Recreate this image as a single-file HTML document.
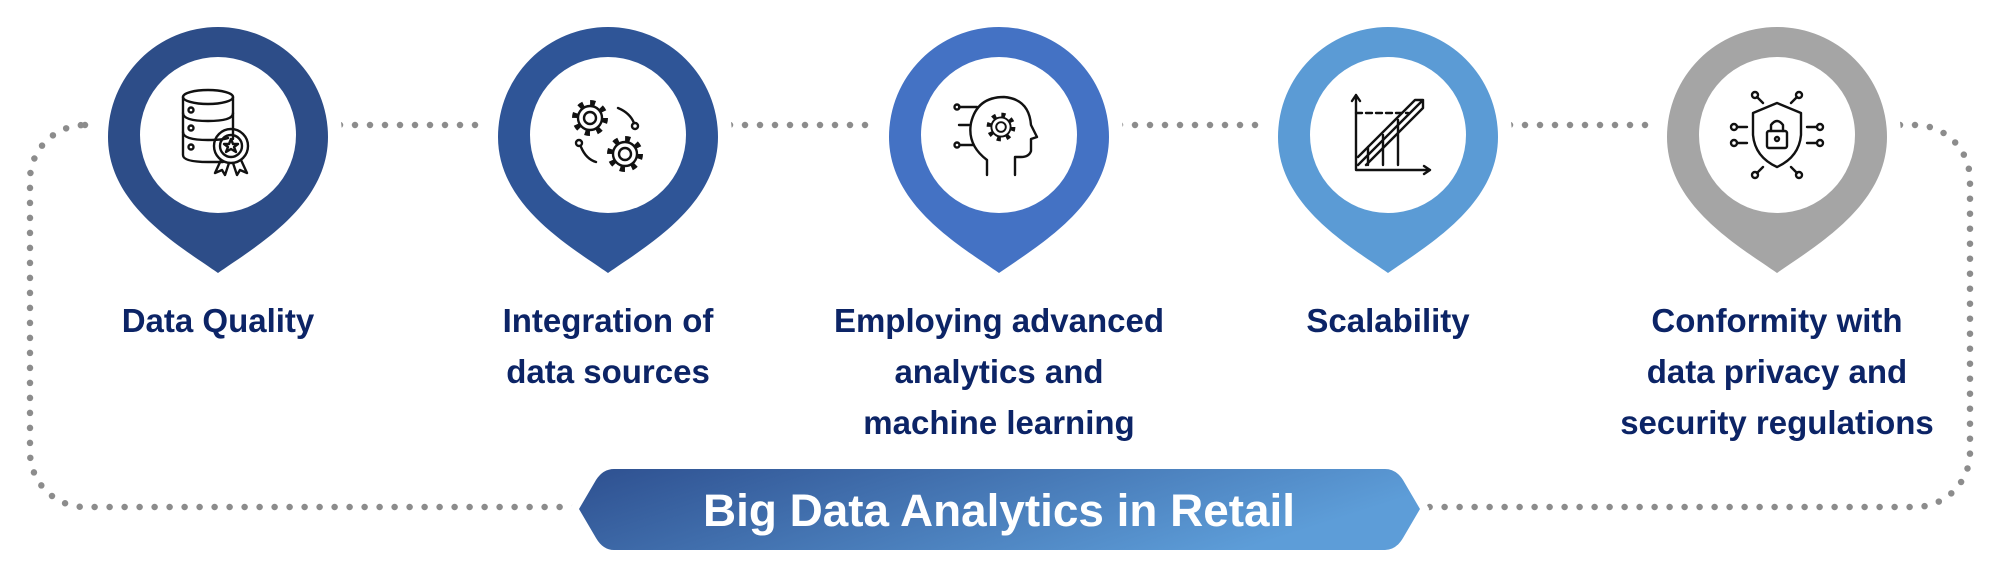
<!DOCTYPE html>
<html><head><meta charset="utf-8">
<style>
html,body{margin:0;padding:0;background:#fff;}
svg{display:block;}
.lb{font-family:"Liberation Sans",sans-serif;font-weight:bold;font-size:33px;fill:#0c2466;text-anchor:middle;}
.ic{fill:none;stroke:#111;stroke-width:2.4;stroke-linecap:round;stroke-linejoin:round;}
</style></head>
<body>
<svg width="2000" height="585" viewBox="0 0 2000 585" xmlns="http://www.w3.org/2000/svg">
<defs>
<linearGradient id="g" x1="0" y1="0" x2="1" y2="0.3">
<stop offset="0" stop-color="#2e5090"/><stop offset="1" stop-color="#5d9dd8"/>
</linearGradient>
<path id="pin" d="M0,273 C-40,245 -110,205 -110,137 A110,110 0 1,1 110,137 C110,205 40,245 0,273 Z"/>
<g id="gear">
<circle cx="0" cy="0" r="15" fill="none" stroke="#111" stroke-width="6" stroke-dasharray="5 6.78"/>
<circle cx="0" cy="0" r="12" fill="#fff" stroke="#111" stroke-width="2.4"/>
<circle cx="0" cy="0" r="6" fill="none" stroke="#111" stroke-width="2.4"/>
</g>
</defs>
<rect x="30" y="125" width="1940" height="382" rx="55" ry="55" fill="none" stroke="#8c8c8c" stroke-width="6.5" stroke-linecap="round" stroke-dasharray="0 15"/>
<path d="M579,509 L596,480 Q603,469 614,469 L1385,469 Q1396,469 1403,480 L1420,509 L1403,538 Q1396,550 1385,550 L614,550 Q603,550 596,538 Z" fill="url(#g)" stroke="#fff" stroke-width="16"/>
<path d="M579,509 L596,480 Q603,469 614,469 L1385,469 Q1396,469 1403,480 L1420,509 L1403,538 Q1396,550 1385,550 L614,550 Q603,550 596,538 Z" fill="url(#g)"/>
<text x="999" y="526" font-family="Liberation Sans,sans-serif" font-weight="bold" font-size="45" fill="#fff" text-anchor="middle" textLength="592" lengthAdjust="spacingAndGlyphs">Big Data Analytics in Retail</text>

<g transform="translate(218,0)"><use href="#pin" fill="#2d4d88" stroke="#fff" stroke-width="28"/><use href="#pin" fill="#2d4d88"/><circle cx="0" cy="135" r="78" fill="#fff"/></g>
<g transform="translate(608,0)"><use href="#pin" fill="#2f5597" stroke="#fff" stroke-width="28"/><use href="#pin" fill="#2f5597"/><circle cx="0" cy="135" r="78" fill="#fff"/></g>
<g transform="translate(999,0)"><use href="#pin" fill="#4472c4" stroke="#fff" stroke-width="28"/><use href="#pin" fill="#4472c4"/><circle cx="0" cy="135" r="78" fill="#fff"/></g>
<g transform="translate(1388,0)"><use href="#pin" fill="#5b9bd5" stroke="#fff" stroke-width="28"/><use href="#pin" fill="#5b9bd5"/><circle cx="0" cy="135" r="78" fill="#fff"/></g>
<g transform="translate(1777,0)"><use href="#pin" fill="#a5a5a5" stroke="#fff" stroke-width="28"/><use href="#pin" fill="#a5a5a5"/><circle cx="0" cy="135" r="78" fill="#fff"/></g>

<g class="ic" transform="translate(218,135)">
<ellipse cx="-10" cy="-38" rx="25" ry="7"/>
<path d="M-35,-38 V20 Q-35,27 -10,27 L5,27 M15,-38 V4"/>
<path d="M-35,-22 Q-35,-14 -10,-14 Q15,-14 15,-22 M-35,-3 Q-35,5 -10,5 Q5,5 10,3"/>
<circle cx="-27" cy="-25" r="2.5"/><circle cx="-27" cy="-7" r="2.5"/><circle cx="-27" cy="12" r="2.5"/>
<circle cx="13" cy="11" r="17"/><circle cx="13" cy="11" r="11"/>
<path d="M13,4 L15,9 L20,9 L16,12 L18,17 L13,14 L8,17 L10,12 L6,9 L11,9 Z"/>
<path d="M3,25 L-3,38 L4,35 L7,40 L11,28 M23,25 L29,38 L22,35 L19,40 L15,28"/>
</g>
<g transform="translate(608,135)">
<use href="#gear" x="-18" y="-17"/>
<use href="#gear" x="17" y="19"/>
<g class="ic">
<path d="M10,-27 Q22,-22 26,-12"/><circle cx="27" cy="-9" r="3"/>
<path d="M-27,12 Q-22,24 -12,27"/><circle cx="-29" cy="8" r="3"/>
</g>
</g>
<g transform="translate(999,135)">
<g class="ic">
<path d="M-12,40 V25 Q-32,10 -28,-12 Q-22,-38 5,-38 Q30,-36 32,-10 L38,2 L32,4 V16 Q30,22 22,22 H16 V40"/>
<path d="M-40,-28 H-22 M-40,-10 H-30 M-38,10 H-26"/><circle cx="-42" cy="-28" r="2.5"/><circle cx="-42" cy="10" r="2.5"/>
</g>
<g transform="translate(2,-8) scale(0.8)"><use href="#gear"/></g>
</g>
<g class="ic" transform="translate(1388,135)">
<path d="M-32,-40 V35 H42 M-36,-34 L-32,-40 L-28,-34 M36,31 L42,35 L36,39"/>
<path d="M-30,30 L35,-35 M-30,22 L27,-35 H35 V-27 L-22,30"/>
<path d="M-32,-22 H20" stroke-dasharray="6 4"/>
<path d="M-5,30 V0 M10,30 V-15 M-20,30 V12"/>
</g>
<g class="ic" transform="translate(1777,135)">
<path d="M0,-32 L24,-22 V0 Q22,22 0,32 Q-22,22 -24,0 V-22 Z"/>
<rect x="-10" y="-4" width="20" height="17" rx="2"/><path d="M-6,-4 V-10 Q0,-18 6,-10 V-4"/><circle cx="0" cy="4" r="2"/>
<path d="M-20,-38 L-14,-32 M20,-38 L14,-32 M-20,38 L-14,32 M20,38 L14,32 M-40,-8 H-30 M-40,8 H-30 M40,-8 H30 M40,8 H30"/>
<circle cx="-22" cy="-40" r="3"/><circle cx="22" cy="-40" r="3"/><circle cx="-22" cy="40" r="3"/><circle cx="22" cy="40" r="3"/>
<circle cx="-43" cy="-8" r="3"/><circle cx="-43" cy="8" r="3"/><circle cx="43" cy="-8" r="3"/><circle cx="43" cy="8" r="3"/>
</g>

<text class="lb" x="218" y="332">Data Quality</text>
<text class="lb" x="608" y="332">Integration of</text>
<text class="lb" x="608" y="383">data sources</text>
<text class="lb" x="999" y="332">Employing advanced</text>
<text class="lb" x="999" y="383">analytics and</text>
<text class="lb" x="999" y="434">machine learning</text>
<text class="lb" x="1388" y="332">Scalability</text>
<text class="lb" x="1777" y="332">Conformity with</text>
<text class="lb" x="1777" y="383">data privacy and</text>
<text class="lb" x="1777" y="434">security regulations</text>
</svg>
</body></html>
